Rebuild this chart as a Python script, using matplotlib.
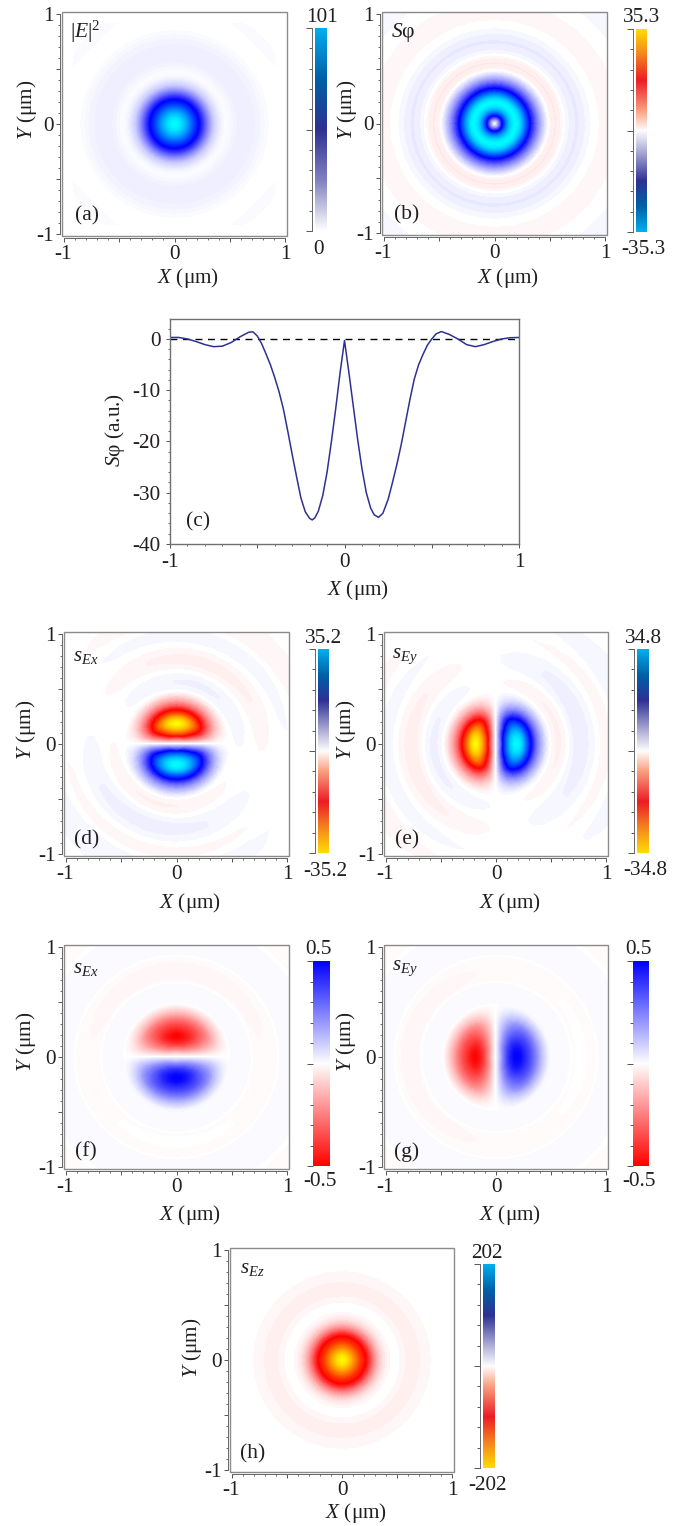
import numpy as np
import matplotlib
matplotlib.use("Agg")
import matplotlib.pyplot as plt
from matplotlib.colors import LinearSegmentedColormap
from matplotlib.patches import Rectangle
from matplotlib.ticker import FixedLocator, NullFormatter

plt.rcParams['font.family'] = ['Liberation Serif', 'DejaVu Sans']
plt.rcParams['mathtext.fontset'] = 'custom'
plt.rcParams['mathtext.rm'] = 'Liberation Serif'
plt.rcParams['mathtext.it'] = 'Liberation Serif:italic'

W, H = 693, 1526
TEXT = '#231f20'
FS = 15.3

# panel (c) curve
curve_x = [-1, -.95, -.9, -.85, -.8, -.75, -.7, -.65, -.6, -.55, -.525, -.5, -.475, -.45, -.425, -.4, -.375,
           -.35, -.325, -.3, -.275, -.25, -.225, -.2, -.185, -.17, -.15, -.125, -.1, -.075, -.05, -.025, 0,
           .025, .05, .075, .1, .125, .15, .17, .195, .22, .25, .275, .3, .325, .35, .375, .4, .425, .45, .475,
           .5, .525, .555, .6, .65, .7, .75, .8, .85, .9, .95, 1]
curve_s = [.3, .3, 0, -.5, -1.1, -1.5, -1.4, -.7, .4, 1.3, 1.4, .6, -.9, -2.9, -5, -7.5, -10.3,
           -13.7, -18, -22.5, -26.8, -31, -33.7, -35, -35.3, -34.9, -33.6, -30.6, -26, -20, -13.5, -6.5, -.3,
           -6.5, -13, -19.5, -25.3, -30, -33, -34.3, -34.8, -34, -31.3, -28, -24.5, -20.6, -16.2, -11.8, -7.8, -5, -3, -1.2,
           0, 1, 1.45, .9, 0, -1.1, -1.5, -1.1, -.5, 0, .25, .3]

# radial nodes shared by the maps, angles every 10 degrees
radius = [0, .025, .05, .075, .1, .125, .15, .175, .2, .225, .25, .275, .3, .325, .35, .375, .4, .425, .45, .475,
          .5, .525, .55, .575, .6, .625, .65, .7, .75, .8, .85, .9, .95, 1, 1.05, 1.1, 1.15, 1.2, 1.3, 1.45]
angle_deg = list(range(0, 370, 10))

# angular shapes
lobe_sin = [0, .28, .52, .72, .86, .94, .98, 1, 1, 1, 1, 1, .98, .94, .86, .72, .52, .28,
            0, -.28, -.52, -.72, -.86, -.94, -.98, -1, -1, -1, -1, -1, -.98, -.94, -.86, -.72, -.52, -.28, 0]
ripple_sin = [0, .17, .34, .5, .64, .77, .87, .94, .98, 1, .98, .94, .87, .77, .64, .5, .34, .17,
              0, -.17, -.34, -.5, -.64, -.77, -.87, -.94, -.98, -1, -.98, -.94, -.87, -.77, -.64, -.5, -.34, -.17, 0]
corner_angle = [0, 0, 0, .5, 1, 1, .5, 0, 0, 0, 0, 0, .5, 1, 1, .5, 0, 0,
                0, 0, 0, .5, 1, 1, .5, 0, 0, 0, 0, 0, .5, 1, 1, .5, 0, 0, 0]
# share of the sharpened shape along the radius, lobes are round near the peak
sharp_share = [0, 0, 0, 0, 0, 0, 0, .1, .2, .35, .5, .65, .8, .9, 1, 1, 1, 1, 1, 1] + [1] * 20

# radial profiles per panel
a_profile = [101, 99, 96, 91, 85, 78, 70, 62, 55, 48, 40, 31, 23, 16, 10, 7, 4, 2, 1, 1,
             1.2, 1.8, 2.4, 3, 3.3, 3.5, 3.5, 3, 2.4, 1.4, .3, 0, 0, 0, 0, 0, 0, 0, 0, 0]
a_corner = [0] * 33 + [0, .8, .6, 0, 0, 0, 0]
b_profile = [-.3, -6.5, -13.5, -20.5, -26.5, -30.8, -33.6, -35, -35, -33.6, -30.6, -26.5, -22, -17.6, -14, -10.8, -7.8, -5.2, -3, -1,
             .5, 1.2, 1.4, 1.2, .6, -.1, -.6, -1.3, -1.5, -1.1, -.5, 0, .3, .4, .5, .4, .1, -.2, -.32, -.3]
d_lobe = [0, 6, 12, 20, 26, 30.5, 33.5, 35.2, 35, 33, 29.5, 24.5, 20, 16, 12, 8.8, 6, 4, 2, .5] + [0] * 20
d_ripple = [0] * 20 + [-.3, -.7, -.9, -.9, -.8, -.5, -.1, .7, 1.1, 1.1, .6, .1, -.5, -.6, -.2, .5, .7, .6, .3, .2]
e_lobe = [0, 6, 12, 19.5, 25.5, 30, 33, 34.8, 34.5, 32.5, 29, 24, 19.5, 15.5, 11.5, 8.5, 5.8, 3.8, 1.8, .5] + [0] * 20
e_ripple = [0] * 20 + [-.3, -.7, -1, -1, -.8, -.5, -.1, .8, 1.2, 1.2, .7, .2, -.4, -.6, -.3, .3, .5, .5, .3, .2]
f_lobe = [0, .08, .17, .27, .36, .43, .47, .5, .5, .48, .44, .4, .36, .31, .26, .2, .15, .1, .06, .02] + [0] * 20
f_arc = [0] * 26 + [0, .004, .008, .008, .003, 0, 0, 0, 0, 0, 0, 0, 0, 0]
ring_bg = [0] * 20 + [.01] * 7 + [-.01] * 5 + [.01] * 6 + [-.01] * 2
h_profile = [-202, -198, -190, -178, -165, -150, -135, -120, -110, -97, -80, -62, -45, -31, -20, -12, -7, -3, -1, 0,
             -1, -2, -3.5, -5, -5.5, -5.5, -5.5, -5.2, -3.5, -2, 0, 0, 0, 0, 0, 0, 0, 0, 0, 0]

# colours
field_colors = ['#ffff00', '#ff0000', '#ffffff', '#0000ff', '#00ffff']
bar_colors = ['#ffdd00', '#f58220', '#ed1c24', '#f9a080', '#ffffff', '#b0b0d8', '#2e3192', '#0060a8', '#00aeef']
bar_pos = [0, .125, .25, .4, .5, .6, .75, .875, 1]
intensity_field = ['#ffffff', '#0000ff', '#00ffff']
intensity_bar = ['#ffffff', '#8080c0', '#2e3192', '#0060a8', '#00aeef']
flat_field = ['#ff0000', '#ffffff', '#0000ff']

# odd sizes so the middle entry is pure white
field_cmap = LinearSegmentedColormap.from_list('field', field_colors, 257)
bar_cmap = LinearSegmentedColormap.from_list('bar', list(zip(bar_pos, bar_colors)), 257)
int_cmap = LinearSegmentedColormap.from_list('int', intensity_field, 256)
int_bar_cmap = LinearSegmentedColormap.from_list('intbar', intensity_bar, 256)
flat_cmap = LinearSegmentedColormap.from_list('flat', flat_field, 257)


def turn(table, steps):
    # shift a 0..360 table by some 10 degree steps
    t = np.array(table[:-1], dtype=float)
    t = np.roll(t, steps)
    return np.append(t, t[0])


def px_axes(x0, y0, x1, y1):
    return fig.add_axes([x0 / W, 1 - y1 / H, (x1 - x0) / W, (y1 - y0) / H])


def put(x, y, s, size=FS, **kw):
    fig.text(x / W, 1 - y / H, s, fontsize=size, color=TEXT, ha='center', va='center', **kw)


def tick_axes(ax, xmin, xminor, ymin, yminor):
    ax.xaxis.set_major_locator(FixedLocator(xmin))
    ax.xaxis.set_minor_locator(FixedLocator(xminor))
    ax.yaxis.set_major_locator(FixedLocator(ymin))
    ax.yaxis.set_minor_locator(FixedLocator(yminor))
    ax.tick_params(which='major', length=3.2, width=.7, color='#555555')
    ax.tick_params(which='minor', length=1.7, width=.6, color='#555555')


def lobes(profile, sharp, smooth):
    # sharpened shape away from the peak, plain shape near it
    p = np.array(profile)
    w = np.array(sharp_share)
    return np.outer(p * w, sharp) + np.outer(p * (1 - w), smooth)


def draw_map(box, bar_box, field, cmap, barmap, vmin, vmax, tag, tag_xy, name, name_xy, name_size,
             xlab_xy, ylab_xy, top_txt, top_xy, bot_txt, bot_xy, line=True):
    ax = px_axes(*box)
    th = np.radians(angle_deg)
    rr = np.array(radius)
    X = np.outer(rr, np.cos(th))
    Y = np.outer(rr, np.sin(th))
    if vmin == 0:
        levels = np.linspace(vmax * .004, vmax, 128)
    else:
        # even count so that zero sits in the middle of a white band
        levels = np.linspace(vmin, vmax, 128)
    ax.contourf(X, Y, field, levels=levels, cmap=cmap, vmin=vmin, vmax=vmax, extend='both')
    ax.set_xlim(-1.014, 1.014)
    ax.set_ylim(-1.014, 1.014)
    ax.add_patch(Rectangle((0, 0), 1, 1, transform=ax.transAxes, fill=False, ec='#8a8a8a', lw=1.0, clip_on=False, zorder=5))
    for k in ['top', 'right']:
        ax.spines[k].set_visible(False)
    for k in ['left', 'bottom']:
        ax.spines[k].set_position(('outward', 1.2))
        ax.spines[k].set_color('#666666')
        ax.spines[k].set_linewidth(.7)
        ax.spines[k].set_bounds(-1, 1)
    tick_axes(ax, [-1, -.5, 0, .5, 1], np.arange(-1, 1.01, .1), [-1, -.5, 0, .5, 1], np.arange(-1, 1.01, .1))
    ax.set_xticklabels(['-1', '', '0', '', '1'], fontsize=FS, color=TEXT)
    ax.set_yticklabels(['-1', '', '0', '', '1'], fontsize=FS, color=TEXT)
    ax.tick_params(axis='x', which='major', pad=2)
    ax.tick_params(axis='y', which='major', pad=1.5)

    cax = px_axes(*bar_box)
    ramp = np.linspace(vmin, vmax, 256)[:, None]
    cax.imshow(ramp, origin='lower', aspect='auto', extent=[0, 1, vmin, vmax], cmap=barmap, vmin=vmin, vmax=vmax)
    for k in ['top', 'right', 'bottom']:
        cax.spines[k].set_visible(False)
    cax.spines['left'].set_position(('outward', 2.5 if line else 0))
    cax.spines['left'].set_color('#666666')
    cax.spines['left'].set_linewidth(.7 if line else 0)
    cax.set_xticks([])
    big = [vmin, (vmin + vmax) / 2, vmax]
    cax.yaxis.set_major_locator(FixedLocator(big))
    cax.yaxis.set_minor_locator(FixedLocator(np.linspace(vmin, vmax, 11)))
    cax.yaxis.set_major_formatter(NullFormatter())
    cax.tick_params(which='major', length=4, width=.7, color='#555555')
    cax.tick_params(which='minor', length=2.4, width=.7, color='#555555')

    put(*tag_xy, tag, size=15.5)
    put(*name_xy, name, size=name_size)
    put(*xlab_xy, '$X$ (μm)')
    put(*ylab_xy, '$Y$ (μm)', rotation=90)
    put(*top_xy, top_txt)
    put(*bot_xy, bot_txt)


fig = plt.figure(figsize=(W / 100, H / 100), dpi=100)

sin_lobe = np.array(lobe_sin)
cos_lobe = turn(lobe_sin, -9)
sin_plain = np.array(ripple_sin)
cos_plain = turn(ripple_sin, -9)

# (a)
za = np.outer(a_profile, np.ones(37)) + np.outer(a_corner, corner_angle)
draw_map((62, 12, 287, 236), (315, 28, 327, 231), za, int_cmap, int_bar_cmap, 0, 101,
         '(a)', (87, 216), r'$|E|^2$', (85, 32), 15.5, (188, 278), (27, 110),
         '101', (322, 17), '0', (318, 249))
# (b)
zb = np.outer(b_profile, np.ones(37))
draw_map((382, 12, 607, 235), (636, 29, 647, 232), zb, field_cmap.reversed(), bar_cmap.reversed(), -35.3, 35.3,
         '(b)', (407, 215), '$S$φ', (403, 32), 15.5, (508, 278), (347, 110),
         '35.3', (642, 17), '-35.3', (643, 250))

# (c)
axc = px_axes(170, 319, 519, 544)
axc.axhline(0, color='black', lw=1, ls=(0, (5, 4)))
axc.plot(curve_x, curve_s, color='#2e3192', lw=1.1)
axc.set_xlim(-1, 1)
axc.set_ylim(-40, 3.9)
for k in axc.spines:
    axc.spines[k].set_color('#707070')
    axc.spines[k].set_linewidth(1)
tick_axes(axc, [-1, -.5, 0, .5, 1], np.arange(-1, 1.01, .1), [-40, -30, -20, -10, 0], np.arange(-40, 3, 2))
axc.set_xticklabels(['-1', '', '0', '', '1'], fontsize=FS, color=TEXT)
axc.set_yticklabels(['-40', '-30', '-20', '-10', '0'], fontsize=FS, color=TEXT)
axc.tick_params(axis='x', which='major', pad=3)
axc.tick_params(axis='y', which='major', pad=3.5)
put(198, 522, '(c)', size=15.5)
put(358, 590, '$X$ (μm)')
put(115, 430, '$S$φ (a.u.)', rotation=90)

# (d)
zd = lobes(d_lobe, -sin_lobe, -sin_plain) + np.outer(d_ripple, -turn(ripple_sin, -2))
draw_map((64, 632, 289, 856), (318, 649, 329, 853), zd, field_cmap, bar_cmap, -35.2, 35.2,
         '(d)', (87, 840), '$s_{Ex}$', (86, 656), 15, (190, 903), (26, 730),
         '35.2', (324, 638), '-35.2', (325, 872))
# (e)
ze = lobes(e_lobe, cos_lobe, cos_plain) + np.outer(e_ripple, turn(ripple_sin, -8))
draw_map((384, 632, 608, 856), (637, 649, 649, 853), ze, field_cmap, bar_cmap, -34.8, 34.8,
         '(e)', (407, 840), '$s_{Ey}$', (405, 656), 15, (510, 903), (346, 730),
         '34.8', (643, 638), '-34.8', (645, 871))
# (f)
zf = lobes(f_lobe, -sin_lobe, -sin_plain) + np.outer(f_arc, -sin_plain) + np.outer(ring_bg, np.ones(37))
draw_map((64, 945, 289, 1169), (313, 961, 330, 1166), zf, flat_cmap, flat_cmap, -.5, .5,
         '(f)', (86, 1152), '$s_{Ex}$', (86, 968), 15, (190, 1215), (26, 1042),
         '0.5', (318, 950), '-0.5', (320, 1182), line=False)
# (g)
zg = lobes(f_lobe, cos_lobe, cos_plain) + np.outer(f_arc, cos_plain) + np.outer(ring_bg, np.ones(37))
draw_map((384, 945, 608, 1169), (633, 961, 649, 1166), zg, flat_cmap, flat_cmap, -.5, .5,
         '(g)', (407, 1152), '$s_{Ey}$', (405, 968), 15, (510, 1215), (346, 1042),
         '0.5', (638, 950), '-0.5', (639, 1182), line=False)
# (h)
zh = np.outer(h_profile, np.ones(37))
draw_map((230, 1248, 454, 1472), (483, 1264, 495, 1468), zh, field_cmap, bar_cmap, -202, 202,
         '(h)', (253, 1454), '$s_{Ez}$', (252, 1269), 15, (356, 1513), (192, 1348),
         '202', (487, 1253), '-202', (488, 1486))

plt.savefig('out.png', dpi=100)
